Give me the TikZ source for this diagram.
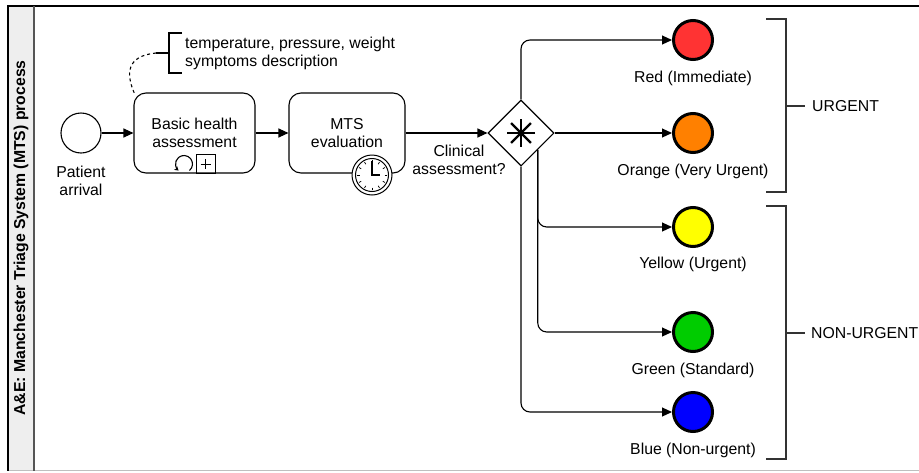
\documentclass[tikz,border=0pt]{standalone}
\usepackage{fontspec}
\setmainfont{Liberation Sans}
\usetikzlibrary{arrows.meta,shapes.geometric,calc}
\definecolor{cred}{HTML}{FF3333}
\definecolor{corange}{HTML}{FF8000}
\definecolor{cyellow}{HTML}{FFFF00}
\definecolor{cgreen}{HTML}{00CC00}
\definecolor{cblue}{HTML}{0000FF}
\definecolor{hdrfill}{HTML}{EEEEEE}
\definecolor{sepgray}{HTML}{555555}
\definecolor{brk}{HTML}{333333}
\begin{document}
\begin{tikzpicture}[x=1pt,y=-1pt,
  font=\fontsize{15.8}{18}\selectfont,
  task/.style={draw, rounded corners=12pt, line width=1.1pt, align=center,
    minimum height=80pt, inner sep=0pt},
  endev/.style={circle, draw, line width=3pt, minimum size=39pt, inner sep=0pt},
  flow/.style={draw, line width=1.1pt, rounded corners=9pt,
    -{Triangle[length=10pt,width=9pt]}},
  lbl/.style={align=center, inner sep=0pt},
  bracketline/.style={draw=brk, line width=1.5pt}]
\useasboundingbox (0,0) rectangle (919,472);

% pool frame
\fill[hdrfill] (8,6) rectangle (34,470.5);
\draw[black!25, line width=1.2pt] (8,470.5) -- (919,470.5);
\draw[line width=1.5pt] (919,6) -- (8,6) -- (8,470.5);
\draw[sepgray, line width=2pt] (34,6) -- (34,470.5);
\node[rotate=90, font=\fontsize{15.8}{18}\selectfont\bfseries] (title) at (21,238)
  {A\&E: Manchester Triage System (MTS) process};

% start
\node[circle, draw, line width=1.1pt, minimum size=40pt, inner sep=0pt] (start) at (81,133) {};
\node[lbl] (startl) at (81,181) {Patient\\arrival};

% tasks
\node[task, minimum width=121pt] (bha) at (194.5,133) {Basic health\\assessment};
\node[task, minimum width=116pt] (mts) at (347,133) {MTS\\evaluation};

% loop + subprocess markers
\coordinate (loopc) at (184,164);
\draw[line width=1.1pt, -{Stealth[length=4pt,width=5pt]}] (loopc) ++(-50:8.5pt)
  arc[start angle=-50, end angle=230, radius=8.5pt];
\node[draw, line width=1pt, minimum size=19pt, inner sep=0pt] (plusbox) at (205.5,164) {};
\draw[line width=1pt] ($(plusbox.center)+(-5,0)$) -- ($(plusbox.center)+(5,0)$)
  ($(plusbox.center)+(0,-5)$) -- ($(plusbox.center)+(0,5)$);

% timer
\node[circle, draw, fill=white, line width=1pt, minimum size=40pt, inner sep=0pt] (timer) at (372,175) {};
\draw[line width=1pt] (timer.center) circle (16.5pt);
\foreach \a in {0,30,...,330}
  \draw[line width=0.7pt] ($(timer.center)+(\a:12.5pt)$) -- ($(timer.center)+(\a:15pt)$);
\draw[line width=1.2pt] ($(timer.center)+(0,-14)$) -- (timer.center) -- ($(timer.center)+(8,0)$);

% annotation
\node[anchor=west, align=left, inner sep=0pt] (ann) at (185,53)
  {temperature, pressure, weight\\symptoms description};
\draw[line width=1.1pt] (182,33) -- (169,33) -- (169,73) -- (182,73);
\coordinate (annstub) at (156,53);
\draw[line width=1.1pt] (169,53) -- (annstub);
\draw[dashed, line width=1.1pt] (annstub) .. controls (126,56) and (126,74) .. ($(bha.north west)+(1,1)$);

% gateway
\node[diamond, draw, line width=1.1pt, minimum width=66pt, minimum height=66pt, inner sep=0pt] (gw) at (521,133) {};
\foreach \a in {0,45,90,135}
  \draw[line width=2.3pt] ($(gw.center)+(\a:14pt)$) -- ($(gw.center)+(\a+180:14pt)$);
\coordinate (gwse) at ($(gw.east)!0.5!(gw.south)$);
\node[lbl] (gwl) at (459,160) {Clinical\\assessment?};

% end events
\node[endev, fill=cred] (red) at (693,40) {};
\node[endev, fill=corange] (orange) at (693,133) {};
\node[endev, fill=cyellow] (yellow) at (693,227) {};
\node[endev, fill=cgreen] (green) at (693,332) {};
\node[endev, fill=cblue] (blue) at (693,412) {};
\node[lbl] (redl) at (693,78) {Red (Immediate)};
\node[lbl] (orangel) at (693,171) {Orange (Very Urgent)};
\node[lbl] (yellowl) at (693,264) {Yellow (Urgent)};
\node[lbl] (greenl) at (693,370) {Green (Standard)};
\node[lbl] (bluel) at (693,450) {Blue (Non-urgent)};

% flows
\draw[flow] (start) -- (bha);
\draw[flow] (bha) -- (mts);
\draw[flow] (mts) -- (gw);
\draw[flow] (gw.north) |- (red);
\draw[flow] (gw.east) -- (orange);
\draw[flow] (gwse) |- (yellow);
\draw[flow] (gwse) |- (green);
\draw[flow] (gw.south) |- (blue);

% brackets
\draw[bracketline] (766,19) -- (786,19) -- (786,192) -- (766,192);
\draw[bracketline] (786,106) -- (805,106);
\node[anchor=west, inner sep=0pt] (urg) at (812,106) {URGENT};
\draw[bracketline] (766,206) -- (786,206) -- (786,459) -- (766,459);
\draw[bracketline] (786,333) -- (805,333);
\node[anchor=west, inner sep=0pt] (nurg) at (811,333) {NON-URGENT};
\end{tikzpicture}
\end{document}
